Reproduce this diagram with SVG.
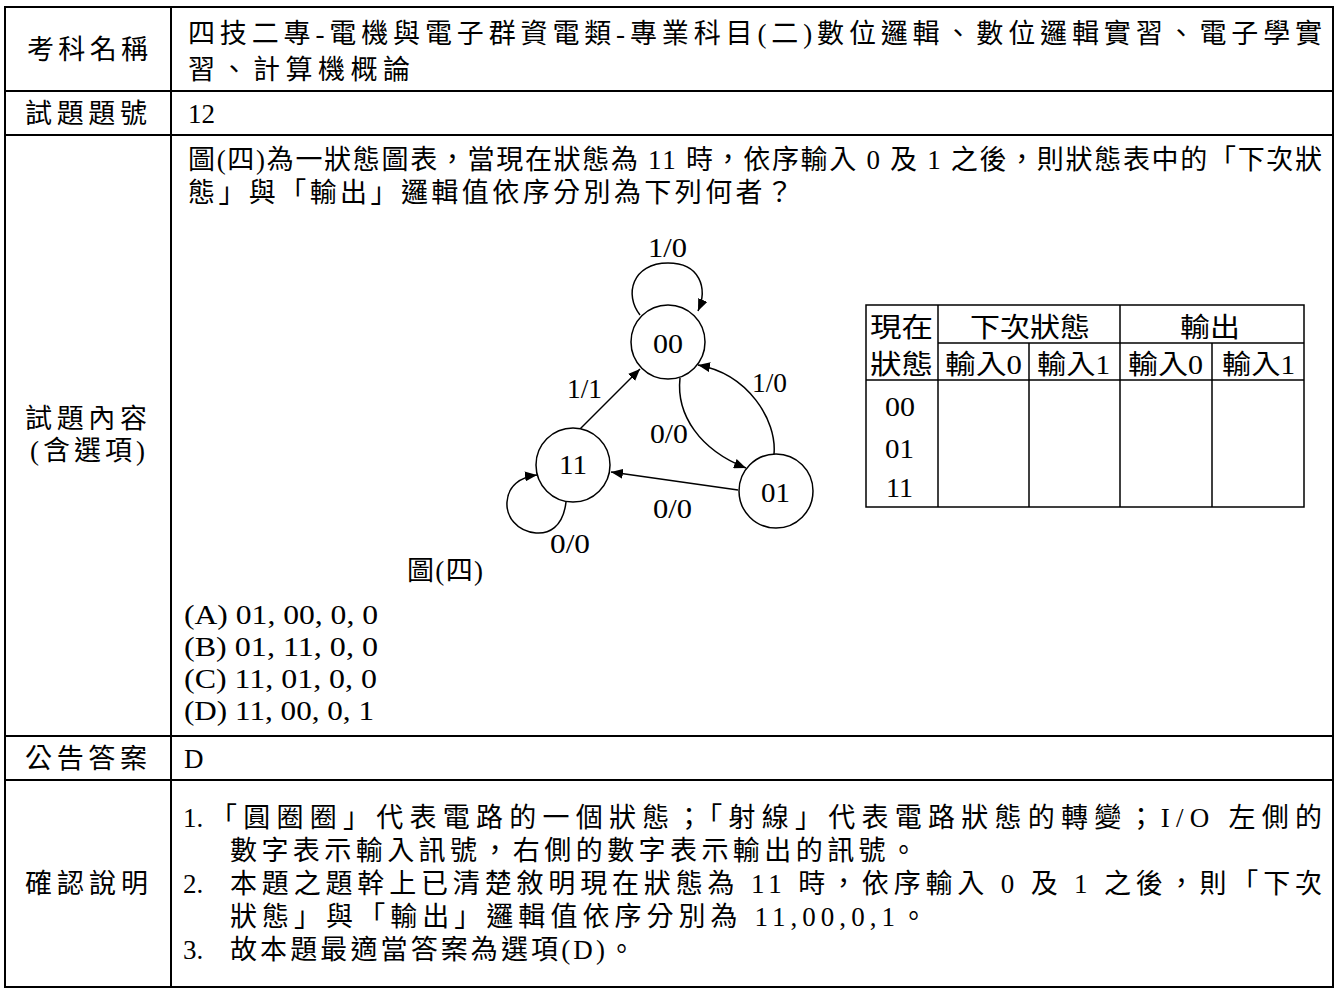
<svg xmlns="http://www.w3.org/2000/svg" width="1338" height="988" viewBox="0 0 1338 988">
<style>
text{font-family:"Liberation Serif","Noto Sans CJK TC",serif;font-size:27px;fill:#000}
.d{font-size:27px}
.grid{stroke:#000;stroke-width:2;fill:none}
.tb{stroke:#000;stroke-width:1.5;fill:none}
.node{stroke:#000;stroke-width:1.5;fill:#fff}
.edge{stroke:#000;stroke-width:1.5;fill:none}
</style>
<defs>
<marker id="ah" viewBox="0 0 12 10" refX="12" refY="5" markerWidth="12" markerHeight="10" orient="auto" markerUnits="userSpaceOnUse"><path d="M0,0 L12,5 L0,10 z" fill="#000"/></marker>
</defs>
<rect width="1338" height="988" fill="#fff"/>
<g id="main-table">
<rect class="grid" x="5" y="7" width="1328" height="980"/>
<line class="grid" x1="171" y1="7" x2="171" y2="987"/>
<line class="grid" x1="5" y1="91" x2="1333" y2="91"/>
<line class="grid" x1="5" y1="135" x2="1333" y2="135"/>
<line class="grid" x1="5" y1="736" x2="1333" y2="736"/>
<line class="grid" x1="5" y1="780" x2="1333" y2="780"/>
</g>
<g id="labels">
<text x="27" y="59" textLength="121" lengthAdjust="spacing">考科名稱</text>
<text x="25" y="123" textLength="122" lengthAdjust="spacing">試題題號</text>
<text x="25" y="428" textLength="122" lengthAdjust="spacing">試題內容</text>
<text x="30" y="460" textLength="115" lengthAdjust="spacing">(含選項)</text>
<text x="25" y="768" textLength="122" lengthAdjust="spacing">公告答案</text>
<text x="25" y="893" textLength="123" lengthAdjust="spacing">確認說明</text>
</g>
<g id="content">
<text x="188" y="43" textLength="1134" lengthAdjust="spacing">四技二專-電機與電子群資電類-專業科目(二)數位邏輯、數位邏輯實習、電子學實</text>
<text x="188" y="79" textLength="222" lengthAdjust="spacing">習、計算機概論</text>
<text x="188" y="123">12</text>
<text x="188" y="169" textLength="1134" lengthAdjust="spacing">圖(四)為一狀態圖表，當現在狀態為 11 時，依序輸入 0 及 1 之後，則狀態表中的「下次狀</text>
<text x="188" y="202" textLength="605" lengthAdjust="spacing">態」與「輸出」邏輯值依序分別為下列何者？</text>
<text x="407" y="580" textLength="76" lengthAdjust="spacing">圖(四)</text>
<text x="184" y="624" textLength="194" lengthAdjust="spacingAndGlyphs">(A) 01, 00, 0, 0</text>
<text x="184" y="656" textLength="194" lengthAdjust="spacingAndGlyphs">(B) 01, 11, 0, 0</text>
<text x="184" y="688" textLength="193" lengthAdjust="spacingAndGlyphs">(C) 11, 01, 0, 0</text>
<text x="184" y="720" textLength="190" lengthAdjust="spacingAndGlyphs">(D) 11, 00, 0, 1</text>
<text x="184" y="768">D</text>
<text x="183" y="827">1.</text>
<text x="210" y="827" textLength="1112" lengthAdjust="spacing">「圓圈圈」代表電路的一個狀態；「射線」代表電路狀態的轉變；I/O 左側的</text>
<text x="230" y="860" textLength="687" lengthAdjust="spacing">數字表示輸入訊號，右側的數字表示輸出的訊號。</text>
<text x="183" y="893">2.</text>
<text x="230" y="893" textLength="1092" lengthAdjust="spacing">本題之題幹上已清楚敘明現在狀態為 11 時，依序輸入 0 及 1 之後，則「下次</text>
<text x="230" y="926" textLength="697" lengthAdjust="spacing">狀態」與「輸出」邏輯值依序分別為 11,00,0,1。</text>
<text x="183" y="959">3.</text>
<text x="230" y="959" textLength="405" lengthAdjust="spacing">故本題最適當答案為選項(D)。</text>
</g>
<g id="connectors">
<path class="edge" d="M640,315 C624,295 632,263 668,263 C700,263 708,288 698,311" marker-end="url(#ah)"/>
<path class="edge" d="M580,429 L640,369" marker-end="url(#ah)"/>
<path class="edge" d="M680,378 C676,415 700,450 746,468" marker-end="url(#ah)"/>
<path class="edge" d="M774,454 C777,420 748,374 698,365" marker-end="url(#ah)"/>
<path class="edge" d="M738,490 L611,472" marker-end="url(#ah)"/>
<path class="edge" d="M566,502 C563,528 548,534 536,533 C516,531 506,516 507,502 C508,486 520,477 537,475" marker-end="url(#ah)"/>
<text class="d" x="648" y="257" textLength="39" lengthAdjust="spacingAndGlyphs">1/0</text>
<text class="d" x="567" y="398" textLength="35" lengthAdjust="spacingAndGlyphs">1/1</text>
<text class="d" x="650" y="443" textLength="38" lengthAdjust="spacingAndGlyphs">0/0</text>
<text class="d" x="752" y="392" textLength="35" lengthAdjust="spacingAndGlyphs">1/0</text>
<text class="d" x="653" y="518" textLength="39" lengthAdjust="spacingAndGlyphs">0/0</text>
<text class="d" x="550" y="553" textLength="40" lengthAdjust="spacingAndGlyphs">0/0</text>
</g>
<g id="node-00">
<circle class="node" cx="668" cy="342" r="37"/>
<text class="d" x="653" y="353" textLength="30" lengthAdjust="spacingAndGlyphs">00</text>
</g>
<g id="node-11">
<circle class="node" cx="573" cy="465" r="37"/>
<text class="d" x="559" y="474" textLength="28" lengthAdjust="spacingAndGlyphs">11</text>
</g>
<g id="node-01">
<circle class="node" cx="776" cy="491" r="37"/>
<text class="d" x="761" y="502" textLength="29" lengthAdjust="spacingAndGlyphs">01</text>
</g>
<g id="state-table">
<rect class="tb" x="866" y="305" width="438" height="202"/>
<line class="tb" x1="938" y1="305" x2="938" y2="507"/>
<line class="tb" x1="1120" y1="305" x2="1120" y2="507"/>
<line class="tb" x1="1029" y1="343" x2="1029" y2="507"/>
<line class="tb" x1="1212" y1="343" x2="1212" y2="507"/>
<line class="tb" x1="938" y1="343" x2="1304" y2="343"/>
<line class="tb" x1="866" y1="380" x2="1304" y2="380"/>
<text x="870" y="337" textLength="63" lengthAdjust="spacingAndGlyphs">現在</text>
<text x="870" y="374" textLength="63" lengthAdjust="spacingAndGlyphs">狀態</text>
<text x="970" y="337" textLength="120" lengthAdjust="spacingAndGlyphs">下次狀態</text>
<text x="1180" y="337" textLength="60" lengthAdjust="spacingAndGlyphs">輸出</text>
<text x="945" y="374" textLength="77" lengthAdjust="spacingAndGlyphs">輸入0</text>
<text x="1037" y="374" textLength="73" lengthAdjust="spacingAndGlyphs">輸入1</text>
<text x="1128" y="374" textLength="75" lengthAdjust="spacingAndGlyphs">輸入0</text>
<text x="1222" y="374" textLength="73" lengthAdjust="spacingAndGlyphs">輸入1</text>
<text x="885" y="416" textLength="30" lengthAdjust="spacingAndGlyphs">00</text>
<text x="885" y="458" textLength="29" lengthAdjust="spacingAndGlyphs">01</text>
<text x="886" y="497" textLength="27" lengthAdjust="spacingAndGlyphs">11</text>
</g>
</svg>
